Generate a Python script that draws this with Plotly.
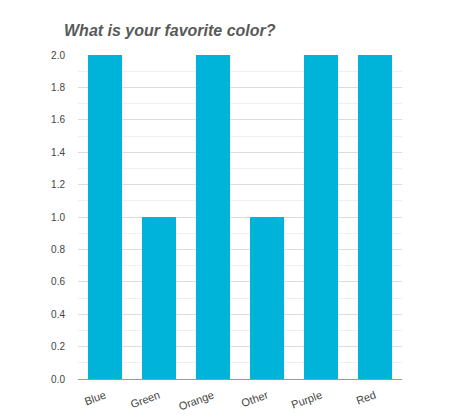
import plotly.graph_objects as go

# Ответы на опрос
colors = ['Blue', 'Green', 'Orange', 'Other', 'Purple', 'Red']
counts = [2, 1, 2, 1, 2, 2]

fig = go.Figure()

fig.add_trace(go.Bar(x=colors,
                     y=counts,
                     marker=dict(color='#00b4d9', line=dict(width=0)),
                     width=0.63,
                     hoverinfo='x+y'))

# страница добавляет отступ 8px, поэтому фигура чуть меньше окна
fig.update_layout(title=dict(text='<b><i>What is your favorite color?</i></b>',
                             x=56 / 446, xanchor='left',
                             y=1 - 22 / 412, yanchor='middle',
                             font=dict(family='Liberation Sans, Arial', size=16, color='#595959')),
                  width=446, height=412,
                  margin=dict(l=70, r=52, t=47, b=41),
                  paper_bgcolor='white',
                  plot_bgcolor='white',
                  showlegend=False,
                  font=dict(family='Liberation Sans, Arial', size=10, color='#444'))

fig.update_xaxes(tickangle=-20,
                 automargin=False,
                 showgrid=False,
                 showline=True, linecolor='#999', linewidth=1,
                 ticks='',
                 ticklabelstandoff=5,
                 tickfont=dict(size=11, color='#444'))

fig.update_yaxes(range=[0, 2.0],
                 automargin=False,
                 dtick=0.2,
                 tickformat='.1f',
                 showgrid=True, gridcolor='#dcdcdc', gridwidth=1,
                 minor=dict(dtick=0.1, showgrid=True, gridcolor='#f0f0f0', gridwidth=1),
                 zeroline=False,
                 ticks='',
                 ticklabelstandoff=12,
                 tickfont=dict(size=10, color='#444'))

fig.write_html("out.html")
